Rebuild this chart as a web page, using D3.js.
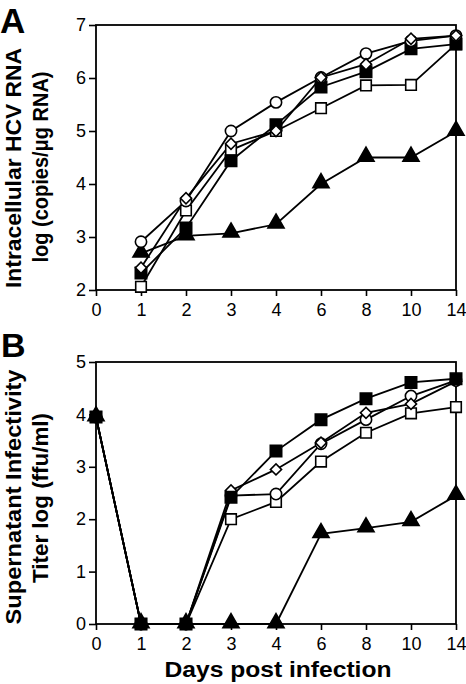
<!DOCTYPE html>
<html><head><meta charset="utf-8">
<script src="https://cdn.jsdelivr.net/npm/d3@7"></script>
<style>body{margin:0;background:#fff}svg{display:block}</style>
</head><body>
<svg id="c" width="466" height="684"></svg>
<script>
const days = ["0","1","2","3","4","6","8","10","14"];
const yTicksA = [2,3,4,5,6,7];
const yTicksB = [0,1,2,3,4,5];

// Panel A: intracellular HCV RNA (days 1..14)
const daysA = ["1","2","3","4","6","8","10","14"];
const aTriangle = [2.69, 3.02, 3.07, 3.24, 4.0, 4.5, 4.5, 4.99];
const aOpenSquare = [2.06, 3.5, 4.64, 5.0, 5.43, 5.86, 5.87, 6.64];
const aFilledSquare = [2.32, 3.17, 4.44, 5.12, 5.83, 6.12, 6.55, 6.64];
const aDiamond = [2.42, 3.73, 4.76, 5.0, 6.01, 6.26, 6.74, 6.8];
const aCircle = [2.91, 3.68, 5.0, 5.54, 6.01, 6.46, 6.7, 6.8];

// Panel B: supernatant infectivity (days 0..14)
const bTriangle = [3.95, 0, 0, 0, 0, 1.72, 1.83, 1.95, 2.45];
const bOpenSquare = [3.95, 0, 0, 2.0, 2.33, 3.1, 3.65, 4.02, 4.14];
const bCircle = [3.95, 0, 0, 2.45, 2.48, 3.44, 3.9, 4.35, 4.65];
const bDiamond = [3.95, 0, 0, 2.55, 2.95, 3.46, 4.03, 4.2, 4.63];
const bFilledSquare = [3.95, 0, 0, 2.42, 3.3, 3.9, 4.3, 4.61, 4.68];

const svg = d3.select("#c");
const x = d3.scalePoint().domain(days).range([96, 456]);
const yA = d3.scaleLinear().domain([2,7]).range([290, 25]);
const yB = d3.scaleLinear().domain([0,5]).range([624, 362]);

const font = "Arial, 'Liberation Sans', sans-serif";

function symbolFor(kind){
  switch(kind){
    case "circle": return {t: d3.symbolCircle, s: 100, fill:"#fff", r:0};
    case "diamond": return {t: d3.symbolSquare, s: 62, fill:"#fff", r:45};
    case "osquare": return {t: d3.symbolSquare, s: 112, fill:"#fff", r:0};
    case "fsquare": return {t: d3.symbolSquare, s: 130, fill:"#000", r:0};
    case "triangle": return {t: d3.symbolTriangle, s: 112, fill:"#000", r:0};
  }
}

function panel(y, ticks, series, xDomain, tickLabelY){
  const g = svg.append("g");
  const [x0,x1] = x.range(); const [yb,yt] = y.range();
  g.append("rect").attr("x",x0).attr("y",yt).attr("width",x1-x0).attr("height",yb-yt)
    .attr("fill","none").attr("stroke","#000").attr("stroke-width",1.8);
  const ya = d3.axisLeft(y).tickValues(ticks).tickSize(7).tickPadding(3).tickFormat(d3.format("d"));
  const gy = g.append("g").attr("transform",`translate(${x0},0)`).call(ya);
  gy.select(".domain").remove();
  gy.selectAll("line").attr("stroke","#000").attr("stroke-width",1.6);
  gy.selectAll("text").attr("font-family",font).attr("font-size",18).attr("fill","#000");
  const xa = d3.axisBottom(x).tickSize(6).tickPadding(4);
  const gx = g.append("g").attr("transform",`translate(0,${yb})`).call(xa);
  gx.select(".domain").remove();
  gx.selectAll("line").attr("stroke","#000").attr("stroke-width",1.6);
  gx.selectAll("text").attr("font-family",font).attr("font-size",18).attr("fill","#000")
    .attr("dy",null).attr("y", tickLabelY - yb);
  const line = d3.line().x(d=>x(d.k)).y(d=>y(d.v));
  series.forEach(s=>{
    const pts = s.vals.map((v,i)=>({k:xDomain[i], v}));
    g.append("path").datum(pts).attr("d",line).attr("fill","none")
      .attr("stroke","#000").attr("stroke-width",1.8);
  });
  series.forEach(s=>{
    const sym = symbolFor(s.kind);
    const pts = s.vals.map((v,i)=>({k:xDomain[i], v}));
    g.selectAll(null).data(pts).enter().append("path")
      .attr("d", d3.symbol().type(sym.t).size(sym.s))
      .attr("transform", d=>`translate(${x(d.k)},${y(d.v) + (s.kind==="triangle"?-1:0)}) rotate(${sym.r})`)
      .attr("fill", sym.fill).attr("stroke","#000").attr("stroke-width",1.6);
  });
}

panel(yA, yTicksA, [
  {kind:"triangle", vals:aTriangle},
  {kind:"osquare", vals:aOpenSquare},
  {kind:"fsquare", vals:aFilledSquare},
  {kind:"circle", vals:aCircle},
  {kind:"diamond", vals:aDiamond}
], daysA, 316);

panel(yB, yTicksB, [
  {kind:"triangle", vals:bTriangle},
  {kind:"osquare", vals:bOpenSquare},
  {kind:"circle", vals:bCircle},
  {kind:"diamond", vals:bDiamond},
  {kind:"fsquare", vals:bFilledSquare}
], days, 650);

svg.append("text").attr("x",0).attr("y",33).text("A")
  .attr("font-family",font).attr("font-weight","bold").attr("font-size",35);
svg.append("text").attr("x",1).attr("y",357).text("B")
  .attr("font-family",font).attr("font-weight","bold").attr("font-size",34);

function ytitle(lines, cy, xs, lens){
  lines.forEach((t,i)=>{
    svg.append("text").attr("transform",`translate(${xs[i]},${cy[i]}) rotate(-90)`)
      .attr("text-anchor","middle").text(t)
      .attr("textLength", lens[i]).attr("lengthAdjust","spacingAndGlyphs")
      .attr("font-family",font).attr("font-weight","bold").attr("font-size",22);
  });
}
ytitle(["Intracellular HCV RNA","log (copies/μg RNA)"], [168,167], [21, 48], [240, 191]);
ytitle(["Supernatant Infectivity","Titer log (ffu/ml)"], [497,498], [21, 48], [255, 170]);

svg.append("text").attr("x",278).attr("y",677).attr("text-anchor","middle")
  .attr("textLength",227).attr("lengthAdjust","spacingAndGlyphs")
  .text("Days post infection").attr("font-family",font).attr("font-weight","bold").attr("font-size",22);
</script>
</body></html>
